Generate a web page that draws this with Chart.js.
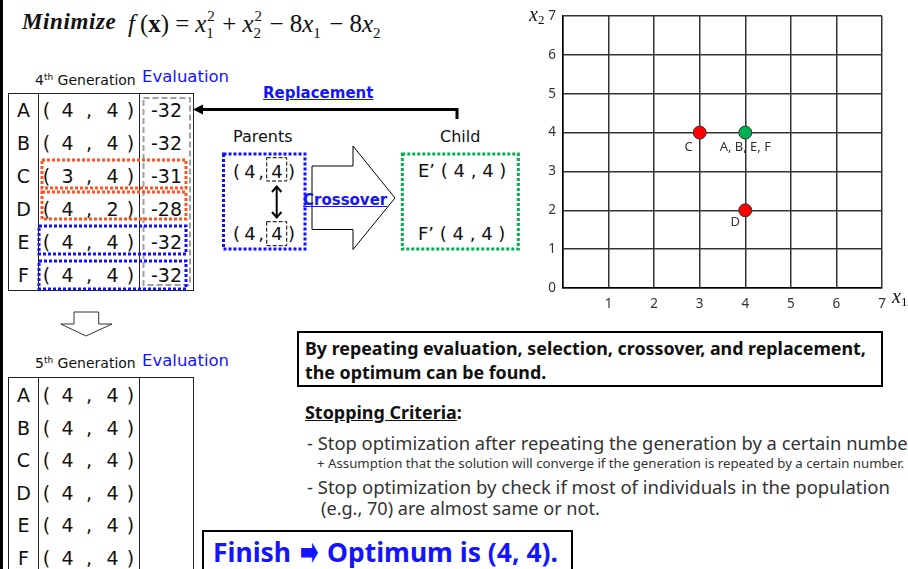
<!DOCTYPE html>
<html><head><meta charset="utf-8">
<script src="https://cdn.jsdelivr.net/npm/chart.js@4.4.1/dist/chart.umd.min.js"></script>
<style>
html,body{margin:0;padding:0;}
body{width:908px;height:569px;overflow:hidden;position:relative;background:#fff;font-family:'DejaVu Sans',sans-serif;color:#111;}
.a{position:absolute;white-space:nowrap;}
.serif{font-family:'Liberation Serif',serif;}
.ns{font-family:'Noto Sans',sans-serif;}
.blue{color:#1414ff;}
.cell{position:absolute;text-align:center;font-size:19px;line-height:24px;height:24px;color:#111;}
.st{display:inline-block;position:relative;width:10px;height:1em;vertical-align:baseline;}
.st .sp{position:absolute;left:1px;top:-5px;font-size:15px;}
.st .sb{position:absolute;left:0px;top:12px;font-size:15px;}
.op{margin:0 6px;}
</style></head><body>

<div class="a" style="left:0;top:0;width:3px;height:569px;background:#000"></div>

<!-- title -->
<div class="a serif" style="left:22px;top:8px;font-size:23px;line-height:28px;">
  <b><i style="letter-spacing:0.6px">Minimize</i></b>
</div>
<div id="formula" class="a serif" style="left:128px;top:7px;font-size:25px;line-height:28px;"><i>f</i>&thinsp;(<b>x</b>)<span class="op">=</span><i>x</i><span class="st"><span class="sp">2</span><span class="sb">1</span></span><span class="op">+</span><i>x</i><span class="st"><span class="sp">2</span><span class="sb">2</span></span><span class="op">−</span>8<i>x</i><span class="st"><span class="sb">1</span></span><span class="op">−</span>8<i>x</i><span class="st"><span class="sb">2</span></span></div>

<!-- 4th generation header -->
<div class="a" style="left:35px;top:67px;font-size:14px;line-height:20px;">4<sup style="font-size:9px;vertical-align:5px">th</sup> Generation</div>
<div class="a blue" style="left:142px;top:66px;font-size:16.5px;line-height:22px;">Evaluation</div>

<div id="tables"></div>

<!-- 5th generation header -->
<div class="a" style="left:35px;top:350px;font-size:14px;line-height:20px;">5<sup style="font-size:9px;vertical-align:5px">th</sup> Generation</div>
<div class="a blue" style="left:142px;top:350px;font-size:16.5px;line-height:22px;">Evaluation</div>

<!-- Replacement / Parents / Child -->
<div class="a blue" style="left:263px;top:82px;font-size:15px;line-height:22px;font-weight:bold;text-decoration:underline;">Replacement</div>
<div class="a" style="left:233px;top:126px;font-size:16px;line-height:22px;">Parents</div>
<div class="a" style="left:440px;top:126px;font-size:16px;line-height:22px;">Child</div>

<div id="parents"></div>

<div class="a" style="left:418px;top:159px;font-size:18px;line-height:24px;">E’ ( 4 , 4 )</div>
<div class="a" style="left:418px;top:222px;font-size:18px;line-height:24px;">F’ ( 4 , 4 )</div>

<svg class="a" style="left:0;top:0;pointer-events:none" width="908" height="569">
  <rect x="143.5" y="98" width="46.5" height="187" fill="none" stroke="#a0a0a0" stroke-width="2" stroke-dasharray="6 3"/>
  <rect x="42" y="160" width="144" height="28" fill="none" stroke="#ff5020" stroke-width="3" stroke-dasharray="3 2"/>
  <rect x="42" y="192" width="144" height="27" fill="none" stroke="#ff5020" stroke-width="3" stroke-dasharray="3 2"/>
  <rect x="39" y="226" width="147" height="28" fill="none" stroke="#1010ff" stroke-width="3" stroke-dasharray="3 2"/>
  <rect x="39" y="261" width="147" height="28" fill="none" stroke="#1010ff" stroke-width="3" stroke-dasharray="3 2"/>
  <polyline points="457,119 457,109.5 201,109.5" fill="none" stroke="#000" stroke-width="3"/>
  <polygon points="193,109.5 203,104.5 203,114.5" fill="#000"/>
  <rect x="223.5" y="154" width="81.5" height="95" fill="none" stroke="#1010ff" stroke-width="3" stroke-dasharray="3 2"/>
  <rect x="266.7" y="157.7" width="20" height="23.3" fill="none" stroke="#000" stroke-width="1" stroke-dasharray="4 2"/>
  <rect x="266.7" y="221.7" width="20" height="24" fill="none" stroke="#000" stroke-width="1" stroke-dasharray="4 2"/>
  <line x1="276.7" y1="188" x2="276.7" y2="216" stroke="#000" stroke-width="2"/>
  <polyline points="272,192 276.7,186.5 281.4,192" fill="none" stroke="#000" stroke-width="2"/>
  <polyline points="272,212 276.7,217.5 281.4,212" fill="none" stroke="#000" stroke-width="2"/>
  <polygon points="312,166 353,166 353,146 395,198 353,249.5 353,229.5 312,229.5" fill="#fff" stroke="#000" stroke-width="1"/>
  <rect x="402.3" y="154" width="116" height="95" fill="none" stroke="#00b050" stroke-width="3" stroke-dasharray="3 2"/>
  <polygon points="74,312 98.7,312 98.7,324 112,324 86,336 60.7,324 74,324" fill="#fff" stroke="#333" stroke-width="1"/>
</svg>

<div class="a blue" style="left:303px;top:189px;font-size:15px;line-height:22px;font-weight:bold;text-decoration:underline;">Crossover</div>

<!-- chart -->
<canvas id="c" width="388" height="320" class="a" style="left:520px;top:0;"></canvas>
<div class="a serif" style="left:529px;top:3px;font-size:20px;line-height:22px;"><i>x</i><sub style="font-size:13px;vertical-align:-3px">2</sub></div>
<div class="a serif" style="left:892px;top:285px;font-size:20px;line-height:22px;"><i>x</i><sub style="font-size:13px;vertical-align:-3px">1</sub></div>

<!-- text box -->
<div class="a" style="left:297px;top:331px;width:582px;height:52px;border:2px solid #000;"></div>
<div class="a ns" style="left:305px;top:337px;font-weight:bold;color:#111;line-height:22.5px;">
  <div id="b1" style="display:inline-block;font-size:16px">By repeating evaluation, selection, crossover, and replacement,</div><br>
  <div id="b2" style="display:inline-block;font-size:16px">the optimum can be found.</div>
</div>

<div id="sc" class="a ns" style="left:305px;top:400px;font-size:16px;line-height:24px;font-weight:bold;color:#111;"><u>Stopping Criteria</u>:</div>
<div class="a ns" style="left:307px;top:431px;line-height:24px;color:#333;"><span id="l1" style="font-size:18px">- Stop optimization after repeating the generation by a certain numbe</span><span id="l1r">r.</span></div>
<div id="l1s" class="a ns" style="left:317px;top:455px;font-size:11px;line-height:16px;color:#333;">+ Assumption that the solution will converge if the generation is repeated by a certain number.</div>
<div id="l2" class="a ns" style="left:307px;top:475px;font-size:18px;line-height:24px;color:#333;">- Stop optimization by check if most of individuals in the population</div>
<div id="l3" class="a ns" style="left:321px;top:496px;font-size:18px;line-height:24px;color:#333;">(e.g., 70) are almost same or not.</div>

<div class="a" style="left:202px;top:530px;width:367px;height:60px;border:2px solid #000;"></div>
<div id="fin" class="a ns blue" style="left:213px;top:535px;font-size:25px;line-height:34px;font-weight:bold;">Finish <span style="font-family:'DejaVu Sans';display:inline-block;transform:scale(0.85,1.45);transform-origin:50% 55%;">➡</span> Optimum is (4, 4).</div>

<script>
// ---- chart data ----
const xTickValues = [0, 1, 2, 3, 4, 5, 6, 7];
const yTickValues = [0, 1, 2, 3, 4, 5, 6, 7];
const pointX = [3, 4, 4];
const pointY = [4, 4, 2];
const pointLabels = ['C', 'A, B, E, F', 'D'];
const pointColors = ['#ff0000', '#00b050', '#ff0000'];
// label offsets (styling)
const labelDx = [-11, 0, -10];
const labelDy = [15, 15, 12];

// ---- table data ----
const rowNames = ['A', 'B', 'C', 'D', 'E', 'F'];
const gen4X1 = [4, 4, 3, 4, 4, 4];
const gen4X2 = [4, 4, 4, 2, 4, 4];
const gen4Fit = [-32, -32, -31, -28, -32, -32];
const gen5X1 = [4, 4, 4, 4, 4, 4];
const gen5X2 = [4, 4, 4, 4, 4, 4];
const parentX1 = [4, 4];
const parentX2 = [4, 4];

// fit text widths (layout only)
function fitW(id, target) {
  const el = document.getElementById(id);
  const fs = parseFloat(getComputedStyle(el).fontSize);
  const w = el.getBoundingClientRect().width;
  el.style.fontSize = (fs * target / w) + 'px';
  return fs * target / w;
}
fitW('b1', 561);
document.getElementById('b2').style.fontSize = document.getElementById('b1').style.fontSize;
fitW('sc', 157);
const f1 = fitW('l1', 908 - 307);
document.getElementById('l1r').style.fontSize = f1 + 'px';
fitW('l1s', 905 - 317);
fitW('l2', 890 - 307);
fitW('l3', 600 - 321);
fitW('fin', 345);

// build tables
const T = document.getElementById('tables');
function box(l, t, w, h, css) {
  const d = document.createElement('div');
  d.className = 'a';
  d.style.cssText += `left:${l}px;top:${t}px;width:${w}px;height:${h}px;` + css;
  T.appendChild(d);
}
function cell(txt, cx, cy, w, parent, fs) {
  const d = document.createElement('div');
  d.className = 'cell';
  d.textContent = txt;
  d.style.left = (cx - w / 2) + 'px';
  d.style.top = (cy - 12) + 'px';
  d.style.width = w + 'px';
  if (fs) d.style.fontSize = fs + 'px';
  (parent || T).appendChild(d);
}
function table(top, height, rowH, firstCy, x1, x2, fit, closed) {
  box(8, top, 184, height, 'border:1.5px solid #222;' + (closed ? '' : 'border-bottom:none;'));
  box(38, top, 0, height, 'border-left:1.5px solid #222;');
  box(139, top, 0, height, 'border-left:1.5px solid #222;');
  rowNames.forEach((n, i) => {
    const cy = firstCy + rowH * i;
    cell(n, 23.5, cy, 26);
    cell('(', 46.5, cy, 10);
    cell(String(x1[i]), 67.5, cy, 14);
    cell(',', 89, cy, 8);
    cell(String(x2[i]), 112.5, cy, 14);
    cell(')', 130.5, cy, 10);
    if (fit) cell(String(fit[i]), 166.5, cy, 40);
  });
}
table(93, 196, 33, 110, gen4X1, gen4X2, gen4Fit, true);
table(376.5, 200, 32.6, 395, gen5X1, gen5X2, null, false);

const P = document.getElementById('parents');
[172, 234].forEach((cy, i) => {
  cell('(', 236.5, cy, 10, P, 18);
  cell(String(parentX1[i]), 250, cy, 13, P, 18);
  cell(',', 261, cy, 8, P, 18);
  cell(String(parentX2[i]), 277, cy, 13, P, 18);
  cell(')', 291.5, cy, 10, P, 18);
});

// ---- chart ----
const labelPlugin = {
  id: 'ptLabels',
  afterDatasetsDraw(chart) {
    const { ctx, scales: { x, y } } = chart;
    ctx.save();
    ctx.font = '13px "Noto Sans", sans-serif';
    ctx.fillStyle = '#333';
    ctx.textAlign = 'center';
    ctx.textBaseline = 'middle';
    pointLabels.forEach((t, i) => {
      ctx.fillText(t, x.getPixelForValue(pointX[i]) + labelDx[i], y.getPixelForValue(pointY[i]) + labelDy[i]);
    });
    ctx.restore();
  }
};

const tickFont = { family: '"Noto Sans", sans-serif', size: 13.5 };
new Chart(document.getElementById('c'), {
  type: 'scatter',
  data: {
    datasets: [{
      data: pointX.map((v, i) => ({ x: v, y: pointY[i] })),
      pointBackgroundColor: pointColors,
      pointBorderColor: '#333',
      pointBorderWidth: 1,
      pointRadius: 6.5,
      pointHoverRadius: 6.5
    }]
  },
  options: {
    responsive: false,
    devicePixelRatio: 1,
    animation: false,
    layout: { padding: { top: 16, right: 26, left: 0, bottom: 0 } },
    plugins: { legend: { display: false }, tooltip: { enabled: false } },
    scales: {
      x: {
        type: 'linear', min: 0, max: 7,
        afterBuildTicks: s => { s.ticks = xTickValues.map(v => ({ value: v })); },
        afterFit: s => { s.height = 32; },
        ticks: { autoSkip: false, padding: 8, color: '#333', font: tickFont, maxRotation: 0,
          callback: v => (v === 0 ? '' : String(v)) },
        grid: { color: '#333', lineWidth: 1.5, drawTicks: false },
        border: { color: '#000', width: 1.5 }
      },
      y: {
        type: 'linear', min: 0, max: 7,
        afterBuildTicks: s => { s.ticks = yTickValues.map(v => ({ value: v })); },
        afterFit: s => { s.width = 43; },
        ticks: { autoSkip: false, padding: 7, color: '#333', font: tickFont,
          callback: v => String(v) },
        grid: { color: '#333', lineWidth: 1.5, drawTicks: false },
        border: { color: '#000', width: 1.5 }
      }
    }
  },
  plugins: [labelPlugin]
});
</script>
</body></html>
